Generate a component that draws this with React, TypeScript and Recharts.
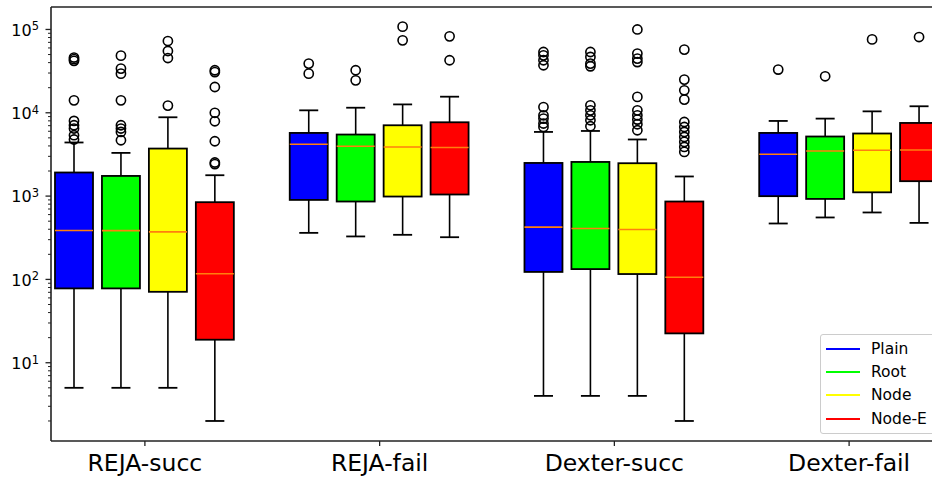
import React from "react";
import {
  ComposedChart,
  Bar,
  XAxis,
  YAxis,
  Legend,
  ReferenceLine,
} from "recharts";

// benchmark groups along the x axis
const groups = ["REJA-succ", "REJA-fail", "Dexter-succ", "Dexter-fail"];
const methods = ["Plain", "Root", "Node", "Node-E"];

// box stats per group: [whisker low, q1, median, q3, whisker high]
const plainBoxes = [
  [5, 78, 387, 1920, 4400],
  [362, 900, 4190, 5730, 10700],
  [4, 123, 424, 2500, 5890],
  [469, 998, 3180, 5730, 7980],
];
const rootBoxes = [
  [5, 78, 385, 1746, 3300],
  [328, 861, 3960, 5480, 11500],
  [4, 133, 408, 2570, 6050],
  [554, 925, 3480, 5190, 8510],
];
const nodeBoxes = [
  [5, 71, 372, 3720, 8830],
  [343, 988, 3890, 7080, 12600],
  [4, 116, 397, 2480, 4780],
  [636, 1110, 3550, 5640, 10400],
];
const nodeEBoxes = [
  [2, 18.9, 117, 845, 1780],
  [321, 1045, 3830, 7690, 15600],
  [2, 22.5, 106, 861, 1720],
  [477, 1510, 3580, 7550, 11970],
];

// outliers per group
const plainFliers = [
  [46000, 44000, 42000, 14100, 7980, 7080, 6470, 5380, 4780],
  [38900, 29500],
  [53600, 48900, 42700, 37200, 11700, 9330, 8510, 7430, 6760],
  [33000],
];
const rootFliers = [
  [48500, 33900, 29500, 14100, 7080, 6470, 5890, 4680],
  [32400, 24500],
  [53600, 46800, 38900, 36100, 12300, 10700, 9330, 8130, 6890],
  [27400],
];
const nodeFliers = [
  [72600, 55100, 45400, 12200],
  [108000, 74000],
  [100000, 51300, 44700, 40600, 15500, 10700, 9330, 8290, 7280, 6170],
  [76000],
];
const nodeEFliers = [
  [32400, 30800, 20400, 10000, 7900, 4550, 2530, 2420],
  [82600, 42700],
  [57300, 25000, 18600, 14400, 7760, 6760, 5890, 5130, 4470, 3890, 3390],
  [81100],
];

const yMajorTicks = [10, 100, 1000, 10000, 100000];

const boxesByMethod = [plainBoxes, rootBoxes, nodeBoxes, nodeEBoxes];
const fliersByMethod = [plainFliers, rootFliers, nodeFliers, nodeEFliers];
const colors = ["#0000ff", "#00ff00", "#ffff00", "#ff0000"];
const offsets = [-0.3, -0.1, 0.1, 0.3];

const Y_MIN = 1.15;
const Y_MAX = 186000;

const rows = groups.flatMap((g, gi) =>
  methods.map((m, mi) => {
    const stats = boxesByMethod[mi][gi];
    const fliers = fliersByMethod[mi][gi];
    const all = [...stats, ...fliers];
    return {
      x: gi + 1 + offsets[mi],
      method: mi,
      stats,
      fliers,
      range: [Math.min(...all), Math.max(...all)],
    };
  })
);

const minorTicks: number[] = [];
[1, 10, 100, 1000, 10000].forEach((d) => {
  for (let k = 2; k <= 9; k++) {
    const v = d * k;
    if (v > Y_MIN && v < Y_MAX) minorTicks.push(v);
  }
});
const yTicks = [...yMajorTicks, ...minorTicks].sort((a, b) => a - b);

// one box per row, positioned from the bar's own [low, high] extent on the log axis
const BoxShape = (props: any) => {
  const { x, y, width, height, payload } = props;
  if (x == null || y == null) return null;
  const top = Math.min(y, y + height);
  const bottom = Math.max(y, y + height);
  const [lo, hi] = payload.range;
  const span = Math.log(hi) - Math.log(lo);
  const toY = (v: number) =>
    bottom - ((bottom - top) * (Math.log(v) - Math.log(lo))) / span;
  const cx = x + width / 2;
  const [wLo, q1, med, q3, wHi] = payload.stats;
  const cap = width / 4;
  const color = colors[payload.method];
  return (
    <g>
      <line x1={cx} x2={cx} y1={toY(wLo)} y2={toY(q1)} stroke="#000" strokeWidth={1.6} />
      <line x1={cx} x2={cx} y1={toY(q3)} y2={toY(wHi)} stroke="#000" strokeWidth={1.6} />
      <line x1={cx - cap} x2={cx + cap} y1={toY(wLo)} y2={toY(wLo)} stroke="#000" strokeWidth={1.8} />
      <line x1={cx - cap} x2={cx + cap} y1={toY(wHi)} y2={toY(wHi)} stroke="#000" strokeWidth={1.8} />
      <rect
        x={x}
        y={toY(q3)}
        width={width}
        height={toY(q1) - toY(q3)}
        fill={color}
        stroke="#000"
        strokeWidth={1.8}
      />
      <line x1={x} x2={x + width} y1={toY(med)} y2={toY(med)} stroke="#ff7f0e" strokeWidth={1.6} />
      {payload.fliers.map((f: number, i: number) => (
        <circle key={i} cx={cx} cy={toY(f)} r={4.6} fill="none" stroke="#000" strokeWidth={1.6} />
      ))}
    </g>
  );
};

const YTick = (props: any) => {
  const { x, y, payload } = props;
  const v = payload.value;
  const exp = Math.log10(v);
  const major = Math.abs(exp - Math.round(exp)) < 1e-9;
  return (
    <g>
      <line
        x1={x - (major ? 5.5 : 3)}
        x2={x}
        y1={y}
        y2={y}
        stroke="#222"
        strokeWidth={major ? 1.3 : 1}
      />
      {major && (
        <text x={x - 12} y={y + 6.3} textAnchor="end" fontSize={16} fill="#000">
          10
          <tspan dy={-5.5} fontSize={11.5}>
            {Math.round(exp)}
          </tspan>
        </text>
      )}
    </g>
  );
};

const XTick = (props: any) => {
  const { x, y, payload } = props;
  return (
    <text x={x} y={y} dy={22.7} textAnchor="middle" fontSize={23.5} fill="#000">
      {groups[payload.value - 1]}
    </text>
  );
};

const LegendBox = () => (
  <div
    style={{
      boxSizing: "border-box",
      width: 116,
      height: 100,
      border: "1px solid #cccccc",
      borderRadius: 3,
      background: "rgba(255,255,255,0.8)",
      padding: "2px 0 0 5px",
      fontFamily: "DejaVu Sans",
    }}
  >
    {methods.map((m, i) => (
      <div key={m} style={{ display: "flex", alignItems: "center", height: 23.3 }}>
        <svg width={34} height={6} style={{ marginRight: 11, display: "block" }}>
          <line x1={0} x2={34} y1={3} y2={3} stroke={colors[i]} strokeWidth={2} />
        </svg>
        <span style={{ fontSize: 15.5, color: "#000", lineHeight: "18px" }}>{m}</span>
      </div>
    ))}
  </div>
);

export default function App() {
  return (
    <div
      style={{
        position: "fixed",
        left: 0,
        top: 0,
        width: 932,
        height: 479,
        overflow: "hidden",
        background: "#fff",
        fontFamily: "DejaVu Sans",
      }}
    >
      <ComposedChart
        width={960}
        height={479}
        data={rows}
        margin={{ top: 7, right: 17, bottom: 0, left: 0 }}
      >
        <XAxis
          type="number"
          dataKey="x"
          domain={[0.6, 4.4]}
          allowDataOverflow
          ticks={[1, 2, 3, 4]}
          interval={0}
          height={38}
          tick={<XTick />}
          tickSize={5}
          axisLine={{ stroke: "#222", strokeWidth: 1.6 }}
          tickLine={{ stroke: "#222", strokeWidth: 1.3 }}
        />
        <YAxis
          scale="log"
          type="number"
          domain={[Y_MIN, Y_MAX]}
          allowDataOverflow
          ticks={yTicks}
          interval={0}
          width={51}
          tickSize={0}
          tickMargin={0}
          tickLine={false}
          tick={<YTick />}
          axisLine={{ stroke: "#222", strokeWidth: 1.6 }}
        />
        <ReferenceLine y={Y_MAX} stroke="#222" strokeWidth={1.6} />
        <ReferenceLine x={4.4} stroke="#222" strokeWidth={1.6} />
        <Bar
          dataKey="range"
          barSize={38}
          shape={<BoxShape />}
          isAnimationActive={false}
        />
        <Legend
          layout="vertical"
          align="center"
          verticalAlign="middle"
          content={<LegendBox />}
          wrapperStyle={{ left: 820, top: 334, width: 116, height: 100 }}
        />
      </ComposedChart>
    </div>
  );
}
